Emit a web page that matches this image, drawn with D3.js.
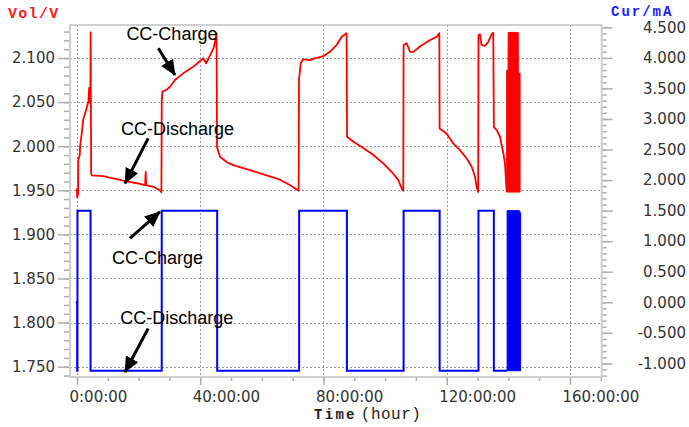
<!DOCTYPE html>
<html>
<head>
<meta charset="utf-8">
<script src="https://cdn.jsdelivr.net/npm/d3@7"></script>
<style>
  body { margin: 0; background: #fff; }
  svg text { font-family: "DejaVu Sans", sans-serif; }
</style>
</head>
<body>
<div id="chart"></div>
<script>
// tick values
var hourTicks = [0, 40, 80, 120, 160];
var volTicks = [1.75, 1.80, 1.85, 1.90, 1.95, 2.00, 2.05, 2.10];
var curTicks = [-1, -0.5, 0, 0.5, 1, 1.5, 2, 2.5, 3, 3.5, 4, 4.5];

// voltage trace, [hour, V]
var voltage = [
  [-0.1, 1.952], [0.1, 1.942], [0.35, 1.946], [0.4, 1.984], [0.9, 1.990], [1.0, 2.000],
  [1.5, 2.013], [2.0, 2.030], [3.1, 2.043], [3.7, 2.050], [3.95, 2.066], [4.1, 2.050],
  [4.35, 2.066], [4.42, 2.129], [4.6, 1.969],
  [4.8, 1.967], [8.5, 1.966], [11.8, 1.9635], [16.1, 1.960], [19.4, 1.958], [22.1, 1.956],
  [22.3, 1.971], [22.45, 1.956], [24.8, 1.954], [26.9, 1.950], [27.4, 1.948],
  [27.5, 2.050], [27.7, 2.062], [29.1, 2.064], [30.2, 2.0675], [31.8, 2.075], [34.5, 2.0826],
  [37.7, 2.090], [41.0, 2.0997], [41.9, 2.094], [43.2, 2.103], [44.3, 2.111], [44.9, 2.120],
  [45.3, 2.128],
  [45.45, 1.999], [46.4, 1.988], [48.6, 1.982], [50.7, 1.9786], [56.1, 1.9729], [61.6, 1.967],
  [65.9, 1.962], [69.1, 1.956], [71.95, 1.9494],
  [72.05, 2.075], [72.6, 2.094], [73.4, 2.0985], [75.6, 2.0977], [77.2, 2.0996], [79.9, 2.102],
  [82.1, 2.107], [84.3, 2.115], [85.9, 2.124], [87.5, 2.128],
  [87.65, 2.0107], [89.7, 2.005], [92.9, 1.998], [96.2, 1.990], [99.4, 1.9805], [102.1, 1.971],
  [104.3, 1.9616], [105.4, 1.952], [105.9, 1.9494],
  [106.0, 2.1148], [107.0, 2.1167], [108.1, 2.107], [109.2, 2.107], [111.3, 2.113],
  [114.6, 2.1204], [116.7, 2.124], [117.6, 2.128],
  [117.7, 2.020], [119.9, 2.0145], [121.0, 2.009], [122.1, 2.0032], [124.3, 1.9956],
  [126.5, 1.986], [128.1, 1.9767], [129.2, 1.9653], [129.7, 1.954], [130.2, 1.948],
  [130.3, 2.126], [130.8, 2.127], [131.3, 2.1148], [132.4, 2.1136], [133.5, 2.1185],
  [134.6, 2.127], [135.1, 2.1287],
  [135.3, 2.022], [136.2, 2.0183], [137.3, 2.0107], [137.8, 2.0013], [138.4, 1.9918],
  [138.9, 1.9805], [139.45, 1.948]
];
// fast cycling at the end, drawn as an envelope [hour, low, high]
var voltageBurst = [
  [139.45, 1.948, 2.086], [139.9, 1.948, 2.086], [139.95, 1.948, 2.129],
  [143.2, 1.948, 2.129], [143.25, 1.948, 2.083], [143.8, 1.948, 2.083]
];

// current trace, [hour, mA]
var current = [
  [-0.4, 0], [0.05, 0], [0.05, -1.12], [0.15, -1.12], [0.15, 1.5], [4.4, 1.5],
  [4.4, -1.12], [27.5, -1.12], [27.5, 1.5], [45.5, 1.5], [45.5, -1.12],
  [72.1, -1.12], [72.1, 1.5], [87.6, 1.5], [87.6, -1.12], [106.0, -1.12],
  [106.0, 1.5], [117.7, 1.5], [117.7, -1.12], [130.3, -1.12], [130.3, 1.5],
  [135.3, 1.5], [135.3, -1.12], [139.6, -1.12]
];
var currentBurst = [
  [139.6, -1.12, 1.5], [143.6, -1.12, 1.5], [144.0, -1.12, 1.45]
];

// annotations in data units (hour, V): text at [t, v], arrow from a to b
var notes = [
  {label: "CC-Charge",    t: 30.8, v: 2.1204, a: [26.4, 2.111],  b: [31.8, 2.0807]},
  {label: "CC-Discharge", t: 32.6, v: 2.0126, a: [23.1, 2.0089], b: [15.6, 1.9578]},
  {label: "CC-Charge",    t: 26.1, v: 1.8662, a: [17.2, 1.8954], b: [26.9, 1.9256]},
  {label: "CC-Discharge", t: 32.4, v: 1.7981, a: [23.1, 1.7933], b: [15.6, 1.7440]}
];

var W = 689, H = 427;
var frame = {left: 70, right: 601.7, top: 25, bottom: 377};

var x = d3.scaleLinear().domain([-2.27, 170.3]).range([frame.left, frame.right]);
var yV = d3.scaleLinear().domain([1.75, 2.1]).range([366.7, 58]);
var yI = d3.scaleLinear().domain([-1, 4.5]).range([363.4, 27.3]);

var svg = d3.select("#chart").append("svg")
    .attr("width", W)
    .attr("height", H);

var defs = svg.append("defs");
defs.append("marker")
    .attr("id", "head")
    .attr("markerUnits", "userSpaceOnUse")
    .attr("markerWidth", 18).attr("markerHeight", 16)
    .attr("refX", 15).attr("refY", 7)
    .attr("orient", "auto")
  .append("path")
    .attr("d", "M0,0 L16,7 L0,14 Z")
    .attr("fill", "#000");

// grid
var grid = svg.append("g").attr("class", "grid")
    .attr("stroke", "#9a9a9a").attr("stroke-width", 1).attr("stroke-dasharray", "2,2");
grid.selectAll(".gh").data(volTicks).enter().append("line")
    .attr("x1", frame.left).attr("x2", frame.right)
    .attr("y1", function(d) { return Math.round(yV(d)) + 0.5; })
    .attr("y2", function(d) { return Math.round(yV(d)) + 0.5; });
grid.selectAll(".gv").data(hourTicks).enter().append("line")
    .attr("y1", frame.top).attr("y2", frame.bottom)
    .attr("x1", function(d) { return Math.round(x(d)) + 0.5; })
    .attr("x2", function(d) { return Math.round(x(d)) + 0.5; });

// axes
function styleAxis(g) {
    g.select(".domain").remove();
    g.selectAll(".tick line").attr("stroke", "#b0b0b0").attr("stroke-width", 1.5);
    g.selectAll(".tick text").attr("fill", "#333").style("font-size", "15px");
}

var minorV = d3.range(174, 214).map(function(d) { return d / 100; });
svg.append("g").attr("transform", "translate(" + frame.left + ",0)")
    .call(d3.axisLeft(yV).tickValues(minorV).tickSize(6).tickFormat(""))
    .call(styleAxis);
svg.append("g").attr("transform", "translate(" + frame.left + ",0)")
    .call(d3.axisLeft(yV).tickValues(volTicks).tickSize(12).tickPadding(3)
        .tickFormat(function(d) { return d.toFixed(3); }))
    .call(styleAxis);

var minorI = d3.range(-12, 46).map(function(d) { return d / 10; });
svg.append("g").attr("transform", "translate(" + frame.right + ",0)")
    .call(d3.axisRight(yI).tickValues(minorI).tickSize(5).tickFormat(""))
    .call(styleAxis);
svg.append("g").attr("transform", "translate(" + frame.right + ",0)")
    .call(d3.axisRight(yI).tickValues(curTicks).tickSize(11)
        .tickFormat(function(d) { return d.toFixed(3); }))
    .call(styleAxis)
  .selectAll(".tick text")
    .attr("text-anchor", "end")
    .attr("x", 686 - frame.right);

svg.append("g").attr("transform", "translate(0," + frame.bottom + ")")
    .call(d3.axisBottom(x).tickValues(d3.range(0, 171, 10)).tickSize(4).tickFormat(""))
    .call(styleAxis);
svg.append("g").attr("transform", "translate(0," + frame.bottom + ")")
    .call(d3.axisBottom(x).tickValues(hourTicks).tickSize(8).tickPadding(6)
        .tickFormat(function(d) { return d + ":00:00"; }))
    .call(styleAxis)
  .selectAll(".tick text")
    .attr("text-anchor", "start")
    .attr("x", -8);

// frame
svg.append("rect")
    .attr("x", frame.left).attr("y", frame.top)
    .attr("width", frame.right - frame.left).attr("height", frame.bottom - frame.top)
    .attr("fill", "none").attr("stroke", "#cfcfcf").attr("stroke-width", 2);

// series
var lineV = d3.line().x(function(d) { return x(d[0]); }).y(function(d) { return yV(d[1]); });
var lineI = d3.line().x(function(d) { return x(d[0]); }).y(function(d) { return yI(d[1]); });
var areaV = d3.area().x(function(d) { return x(d[0]); })
    .y0(function(d) { return yV(d[1]); }).y1(function(d) { return yV(d[2]); });
var areaI = d3.area().x(function(d) { return x(d[0]); })
    .y0(function(d) { return yI(d[1]); }).y1(function(d) { return yI(d[2]); });

svg.append("path").datum(current)
    .attr("d", lineI).attr("fill", "none")
    .attr("stroke", "#0000ff").attr("stroke-width", 2).attr("stroke-linejoin", "miter");
svg.append("path").datum(currentBurst)
    .attr("d", areaI).attr("fill", "#0000ff").attr("stroke", "#0000ff").attr("stroke-width", 1);

svg.append("path").datum(voltage)
    .attr("d", lineV).attr("fill", "none")
    .attr("stroke", "#ff0000").attr("stroke-width", 1.8).attr("stroke-linejoin", "round");
svg.append("path").datum(voltageBurst)
    .attr("d", areaV).attr("fill", "#ff0000").attr("stroke", "#ff0000").attr("stroke-width", 1);

// axis titles
svg.append("text")
    .attr("x", 8).attr("y", 18)
    .attr("fill", "#ff2020")
    .style("font-family", "'Liberation Mono', monospace")
    .style("font-size", "15px").style("font-weight", "bold").style("letter-spacing", "1.3px")
    .text("Vol/V");
svg.append("text")
    .attr("x", 611).attr("y", 16)
    .attr("fill", "#2020ff")
    .style("font-family", "'Liberation Mono', monospace")
    .style("font-size", "14px").style("font-weight", "bold").style("letter-spacing", "2px")
    .text("Cur/mA");

var xt = svg.append("text")
    .attr("x", 314).attr("y", 419)
    .attr("fill", "#222")
    .style("font-family", "'Liberation Mono', monospace");
xt.append("tspan").style("font-weight", "bold").style("font-size", "14px")
    .style("letter-spacing", "2.3px").text("Time");
xt.append("tspan").attr("dx", 4).style("font-size", "16px")
    .style("letter-spacing", "0.5px").text("(hour)");

// annotations
var ann = svg.append("g").attr("class", "notes");
ann.selectAll("line").data(notes).enter().append("line")
    .attr("x1", function(d) { return x(d.a[0]); })
    .attr("y1", function(d) { return yV(d.a[1]); })
    .attr("x2", function(d) { return x(d.b[0]); })
    .attr("y2", function(d) { return yV(d.b[1]); })
    .attr("stroke", "#000").attr("stroke-width", 3)
    .attr("marker-end", "url(#head)");
ann.selectAll("text").data(notes).enter().append("text")
    .attr("x", function(d) { return x(d.t); })
    .attr("y", function(d) { return yV(d.v); })
    .attr("text-anchor", "middle")
    .attr("fill", "#000")
    .style("font-family", "'Liberation Sans', Arial, sans-serif")
    .style("font-size", "18px")
    .text(function(d) { return d.label; });
</script>
</body>
</html>
